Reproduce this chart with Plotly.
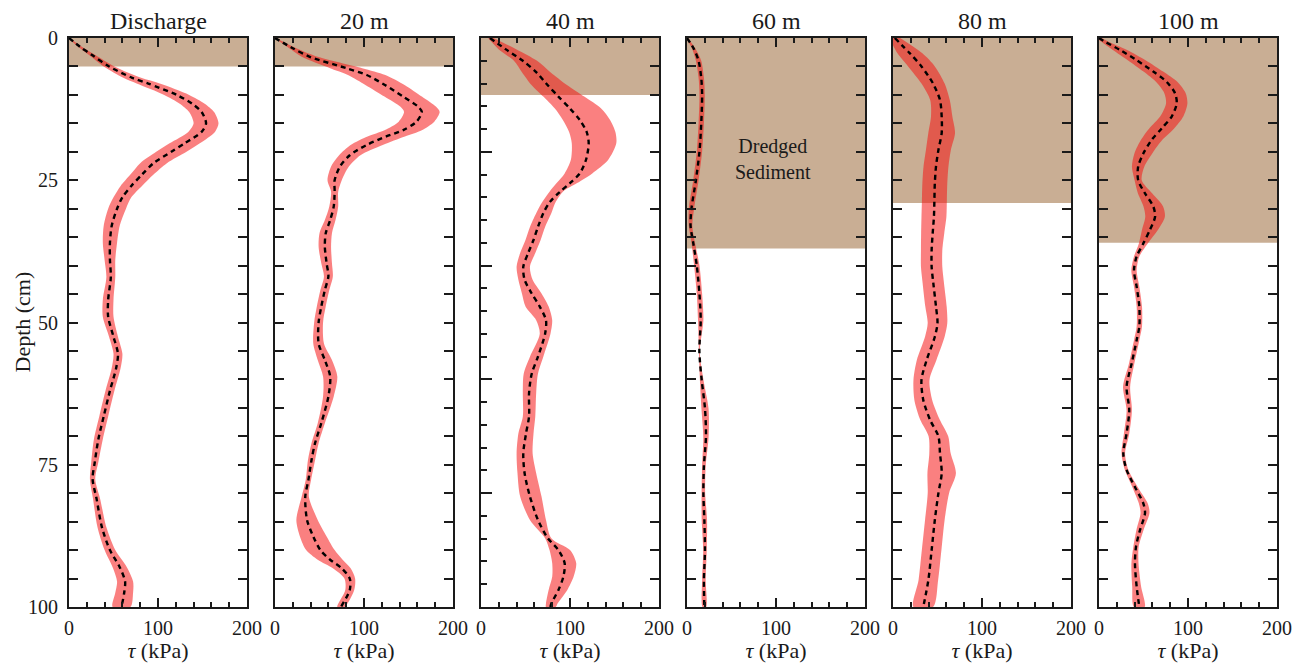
import plotly.graph_objects as go
from plotly.subplots import make_subplots

# ---------------- data ----------------
panel_titles = ["Discharge", "20 m", "40 m", "60 m", "80 m", "100 m"]
sediment_depth = [5, 5, 10, 37, 29, 36]   # cm, dredged sediment layer

# Discharge
d0 = [0, 1.5, 3, 5, 7, 8, 10, 11.5, 13, 15, 16.5, 18.5, 20, 22, 24, 26, 28, 30, 33, 36, 39, 42, 46, 49,
      52.5, 55.5, 58, 62, 66.5, 70.5, 74.5, 77.5, 81, 86, 90, 93, 95.5, 97.5, 100]
m0 = [0, 12, 26, 45, 71, 89, 121, 138, 149, 154, 149, 130, 115, 95, 82, 70, 60, 54, 48, 46, 46, 47, 44, 44,
      50, 55, 53, 46, 39, 33, 29, 26.5, 31, 37, 46, 57, 63, 62, 59]
h0 = [0.5, 2, 3.5, 6, 10, 13, 14, 14, 14, 14, 15, 17, 17, 15, 13, 12, 10, 10, 9, 8, 6, 5, 6, 6,
      5, 5, 5, 5, 5, 5, 4, 3, 4, 5, 6, 8, 9, 10, 10]

# 20 m
d1 = [0, 1.8, 3.3, 5.3, 6.5, 8.3, 10.3, 12.1, 13, 14.7, 16.2, 17.3, 18.8, 20.6, 22.6, 25, 27, 29.6, 32, 34.3,
      36.7, 39.6, 41.9, 44.3, 47.2, 50, 53.7, 56.6, 59.5, 63, 67.7, 71.2, 74.2, 77.7, 80.6, 84.7, 87.6, 90,
      91.7, 93.2, 95, 97, 100]
m1 = [0, 20, 39, 80, 103, 124, 144, 161, 165, 159, 144, 125, 103, 84, 73, 67, 67, 66, 62, 57,
      56, 58, 60, 56, 52, 49, 49, 56, 62, 60, 52, 45, 41, 37.5, 34, 36, 43, 51,
      62, 75, 84, 84, 74]
h1 = [1, 4, 9, 18, 21, 22, 21, 20, 20, 20, 21, 21, 18, 12, 10, 8, 4, 5, 6, 7,
      7, 6, 5, 5, 5, 5, 6, 8, 8, 6, 4, 4, 4, 3, 4, 12, 15, 16,
      14, 10, 6, 5, 4]

# 40 m (asymmetric band)
d2 = [0, 2, 4, 6, 8.3, 10.3, 12.4, 14.4, 16.5, 18.5, 21.4, 23.8, 25.5, 27, 28.8, 30.8, 33.2, 35.5, 37.8,
      40.2, 42.5, 44.9, 47.2, 49.6, 52, 56, 59, 62.4, 66.5, 69.5, 73, 76.5, 80.6, 84.7, 87.9, 90, 92.3,
      94.7, 97, 99.4, 100]
m2 = [10, 28, 47, 62, 75, 87, 100, 111, 118.7, 121, 118, 111, 100, 89, 77.5, 70, 64, 59, 53,
      47.5, 49, 57, 66, 73, 72, 64, 57, 54, 54, 50.6, 47.5, 49, 55, 64, 75, 87, 94,
      92.5, 87, 79, 78]
lo2 = [8, 20, 37, 46, 57, 70, 83, 92, 99, 102, 101, 94, 85, 77, 69, 62, 55, 50, 44,
       40, 42, 46, 50, 62, 66, 55, 48, 47, 47, 42, 40, 41, 44, 55, 72, 77, 80,
       80, 76, 73, 73]
hi2 = [14, 40, 63, 78, 97, 116, 135, 145, 151, 152, 143, 125, 108, 92, 84, 79, 72, 67, 61,
       55, 58, 68, 76, 80, 78, 70, 64, 62, 61, 59, 58, 62, 68, 73, 79, 100, 107,
       104, 97, 86, 84]

# 60 m
d3 = [0, 2, 4, 7, 10, 15, 20, 25, 30, 33, 36, 40, 45, 49.6, 55.1, 60.1, 65.1, 70.1, 75.2, 80, 84.7, 90, 95.3, 100]
m3 = [0, 8, 13, 16, 17, 16, 14, 10, 5, 4, 7, 11, 14, 15.4, 13.9, 16.5, 20.2, 21.3, 19, 18.4, 19.5, 20.2, 19, 19.5]
h3 = [1, 2, 3, 3, 3, 3, 3, 3, 3, 2, 2, 3, 3, 3, 0.5, 2, 4, 3, 2, 2, 3, 2, 2, 2]

# 80 m
d4 = [0, 2.7, 5, 8, 10.9, 13.8, 16.7, 19.7, 22.6, 25.5, 28.5, 31.4, 34.3, 37.3, 40.2, 43.1, 47.2, 50.1,
      52.5, 56.6, 60.1, 63.6, 67.1, 70, 73, 76.5, 80, 84.7, 90, 95.3, 100]
m4 = [2, 19, 32, 45, 52.8, 54.7, 54.7, 51, 48.3, 47, 46.5, 46, 44.6, 43.4, 43.4, 45.3, 48.3, 50,
      47, 37.8, 32, 34, 41.6, 51, 52.8, 54.7, 51, 47, 43.4, 39.7, 34]
h4 = [6, 14, 15, 13, 11, 12, 15, 14, 14, 14, 14, 14, 13, 12, 12, 12, 12, 11,
      11, 11, 9, 10, 11, 11, 12, 16, 12, 11, 11, 11, 11]

# 100 m
d5 = [0, 0.65, 2.1, 3.9, 5.9, 7.7, 9.7, 11.5, 13.8, 15.9, 17.9, 20.3, 22.6, 25, 27.3, 29.6, 31.4, 33.7,
      36.1, 38.4, 40.8, 43.7, 47.2, 50.7, 53.1, 57.2, 61.3, 65.4, 69.5, 73, 75.9, 78.9, 81.8, 83.5,
      86.5, 89.4, 92.3, 96.4, 100]
m5 = [0, 6.7, 23.6, 42.3, 61, 76, 85.4, 87.3, 81.7, 70.4, 59.2, 49.8, 44, 44, 51.7, 61, 63, 57.3,
      49.8, 42.3, 39.3, 42.3, 45.3, 45.3, 42.3, 36.7, 31, 34, 31, 27.3, 31, 40.4, 49.8, 51.7,
      46, 41.6, 40.4, 42.3, 45.3]
h5 = [3, 4, 8, 10, 11, 12, 12, 12, 13, 14, 12, 10, 7, 4, 8, 11, 11, 9,
      5, 3, 3, 3, 3, 3, 3, 3, 4, 3, 3, 2, 2, 3, 5, 5,
      4, 3, 4, 5, 6]

depths = [d0, d1, d2, d3, d4, d5]
means = [m0, m1, m2, m3, m4, m5]
lows = [[m - h for m, h in zip(m0, h0)], [m - h for m, h in zip(m1, h1)], lo2,
        [m - h for m, h in zip(m3, h3)], [m - h for m, h in zip(m4, h4)], [m - h for m, h in zip(m5, h5)]]
highs = [[m + h for m, h in zip(m0, h0)], [m + h for m, h in zip(m1, h1)], hi2,
         [m + h for m, h in zip(m3, h3)], [m + h for m, h in zip(m4, h4)], [m + h for m, h in zip(m5, h5)]]

x_ticks_major = [0, 100, 200]
y_ticks = list(range(0, 101, 5))
y_labels = [str(v) if v % 25 == 0 else "" for v in y_ticks]

# ---------------- styling ----------------
FONT = "Liberation Serif"
INK = "#1a1a1a"
BAND = "rgba(245,15,15,0.53)"
SED = "#C9AE94"

fig = make_subplots(rows=1, cols=6, horizontal_spacing=28 / 1208,
                    subplot_titles=panel_titles, shared_yaxes=False)

for i in range(6):
    c = i + 1
    d, m, lo, hi = depths[i], means[i], lows[i], highs[i]
    fig.add_trace(go.Scatter(x=hi + lo[::-1], y=d + d[::-1], mode="lines", fill="toself",
                             fillcolor=BAND, line=dict(width=0, shape="spline", smoothing=0.8),
                             hoverinfo="skip", showlegend=False), row=1, col=c)
    fig.add_trace(go.Scatter(x=m, y=d, mode="lines",
                             line=dict(color="black", width=2.4, dash="5px,4px", shape="spline", smoothing=0.8),
                             showlegend=False), row=1, col=c)
    fig.add_shape(type="rect", xref=f"x{c if c > 1 else ''}", yref=f"y{c if c > 1 else ''}",
                  x0=0, x1=200, y0=0, y1=sediment_depth[i], fillcolor=SED, line=dict(width=0),
                  layer="below")

    fig.update_xaxes(row=1, col=c, range=[0, 200], tickvals=x_ticks_major, ticks="inside", ticklen=9,
                     tickwidth=2, tickcolor=INK, showline=True, linewidth=2, linecolor=INK, mirror="ticks",
                     showgrid=False, zeroline=False, automargin=False,
                     minor=dict(dtick=20, ticks="inside", ticklen=5, tickwidth=2, tickcolor=INK, showgrid=False),
                     tickfont=dict(family=FONT, size=20, color=INK), ticklabelstandoff=2,
                     title=dict(text="<i>τ</i> (kPa)", font=dict(family=FONT, size=22, color=INK), standoff=0))
    if c == 3:
        fig.update_yaxes(row=1, col=c, range=[100, 0], dtick=20, ticks="inside", ticklen=11, tickwidth=2,
                         tickcolor=INK, showline=True, linewidth=2, linecolor=INK, mirror=False,
                         showgrid=False, zeroline=False, showticklabels=False, automargin=False,
                         minor=dict(dtick=4, ticks="inside", ticklen=6, tickwidth=2, tickcolor=INK,
                                    showgrid=False))
    else:
        fig.update_yaxes(row=1, col=c, range=[100, 0], tickvals=y_ticks, ticktext=y_labels,
                         ticks="inside", ticklen=9, tickwidth=2, tickcolor=INK, showline=True, linewidth=2,
                         linecolor=INK, mirror="ticks", showgrid=False, zeroline=False, automargin=False,
                         showticklabels=(c == 1), tickfont=dict(family=FONT, size=20, color=INK),
                         ticklabelstandoff=5)

# right-hand axis of the 40 m panel (ticks every 5 cm)
fig.update_layout(yaxis7=dict(overlaying="y3", side="right", anchor="x3", range=[100, 0],
                              tickvals=y_ticks, ticks="inside", ticklen=9, tickwidth=2, tickcolor=INK,
                              showline=True, linewidth=2, linecolor=INK, showgrid=False, zeroline=False,
                              showticklabels=False, automargin=False))
fig.add_trace(go.Scatter(x=[None], y=[None], xaxis="x3", yaxis="y7", showlegend=False, hoverinfo="skip"))

for ann in fig.layout.annotations:
    ann.font = dict(family=FONT, size=24, color=INK)
    ann.yshift = 2

# y-axis title
fig.add_annotation(x=-0.0389, y=0.5, xref="paper", yref="paper", text="Depth (cm)", textangle=-90,
                   showarrow=False, xanchor="center", yanchor="middle",
                   font=dict(family=FONT, size=22, color=INK))

fig.add_annotation(x=97, y=21.2, xref="x4", yref="y4", text="Dredged<br>Sediment", showarrow=False,
                   font=dict(family=FONT, size=20, color=INK))

# the page body adds an 8 px margin, so the figure is sized/offset to compensate
fig.update_layout(width=1302, height=655, margin=dict(l=61, r=33, t=30, b=56, autoexpand=False),
                  paper_bgcolor="white", plot_bgcolor="white", showlegend=False,
                  font=dict(family=FONT, color=INK))

fig.write_html("out.html")
